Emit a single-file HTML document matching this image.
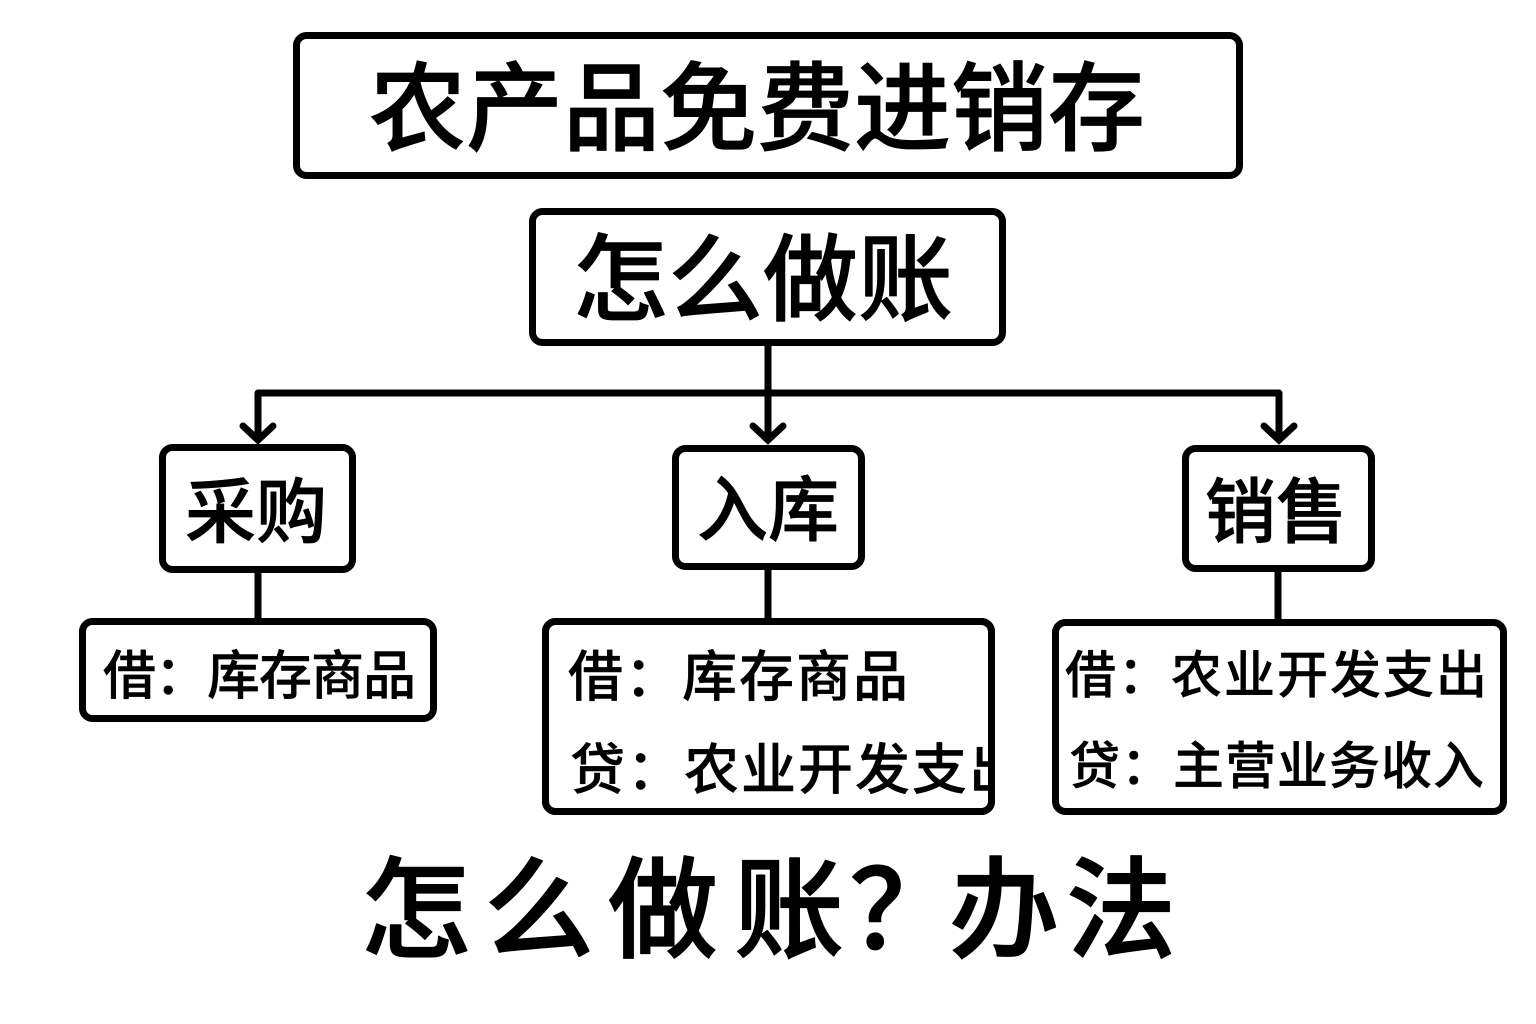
<!DOCTYPE html>
<html>
<head>
<meta charset="utf-8">
<style>
  html,body{margin:0;padding:0;background:#fff;}
  body{width:1536px;height:1024px;overflow:hidden;}
  svg{display:block;}
  text{font-family:"Liberation Sans","Noto Sans CJK SC","WenQuanYi Zen Hei",sans-serif;font-weight:500;fill:#000;stroke:#000;stroke-linejoin:round;}
</style>
</head>
<body>
<svg width="1536" height="1024" viewBox="0 0 1536 1024" xmlns="http://www.w3.org/2000/svg">
  <defs>
    <clipPath id="c2"><rect x="548" y="624" width="441" height="184"/></clipPath>
  </defs>
  <rect x="0" y="0" width="1536" height="1024" fill="#fff"/>

  <!-- Title box -->
  <rect x="296.5" y="35.5" width="943" height="140" rx="10" ry="10" fill="#fff" stroke="#000" stroke-width="7"/>
  <text x="369" y="143" font-size="97" stroke-width="0.8">农产品免费进销存</text>

  <!-- 怎么做账 box -->
  <rect x="532.5" y="211.5" width="470" height="131" rx="10" ry="10" fill="#fff" stroke="#000" stroke-width="7"/>
  <text x="573" y="313" font-size="95" stroke-width="0.8">怎么做账</text>

  <!-- connectors -->
  <g fill="none" stroke="#000" stroke-width="7">
    <path d="M768,346 V440" stroke-linecap="butt"/>
    <path d="M258,440 V393 H1279 V440" stroke-linejoin="round"/>
    <path d="M243,426 L258,440 L273,426" stroke-linejoin="miter" stroke-linecap="round"/>
    <path d="M753,426 L768,440 L783,426" stroke-linejoin="miter" stroke-linecap="round"/>
    <path d="M1264,426 L1279,440 L1294,426" stroke-linejoin="miter" stroke-linecap="round"/>
    <path d="M258,572 V621"/>
    <path d="M768,569 V621"/>
    <path d="M1278,571 V622"/>
  </g>

  <!-- level 2 boxes -->
  <rect x="162.5" y="447.5" width="190" height="122" rx="10" ry="10" fill="#fff" stroke="#000" stroke-width="7"/>
  <text x="185" y="537" font-size="71" stroke-width="0.7">采购</text>

  <rect x="675.5" y="448.5" width="186" height="118" rx="10" ry="10" fill="#fff" stroke="#000" stroke-width="7"/>
  <text x="697" y="535" font-size="71" stroke-width="0.7">入库</text>

  <rect x="1185.5" y="448.5" width="186" height="120" rx="10" ry="10" fill="#fff" stroke="#000" stroke-width="7"/>
  <text x="1205" y="537" font-size="71" stroke-width="0.7">销售</text>

  <!-- level 3 boxes -->
  <rect x="82.5" y="621.5" width="351" height="97" rx="10" ry="10" fill="#fff" stroke="#000" stroke-width="7"/>
  <text x="103" y="694" font-size="53" letter-spacing="-1" stroke-width="0.4">借：库存商品</text>

  <rect x="545.5" y="621.5" width="446" height="190" rx="10" ry="10" fill="#fff" stroke="#000" stroke-width="7"/>
  <g clip-path="url(#c2)">
    <text x="568" y="696" font-size="55" letter-spacing="2" stroke-width="0.4">借：库存商品</text>
    <text x="570" y="789" font-size="55" letter-spacing="2" stroke-width="0.4">贷：农业开发支出</text>
  </g>
  <rect x="545.5" y="621.5" width="446" height="190" rx="10" ry="10" fill="none" stroke="#000" stroke-width="7"/>

  <rect x="1055.5" y="622.5" width="448" height="189" rx="10" ry="10" fill="#fff" stroke="#000" stroke-width="7"/>
  <text x="1065" y="693" font-size="51" letter-spacing="2" stroke-width="0.4">借：农业开发支出</text>
  <text x="1069" y="784" font-size="51" letter-spacing="1" stroke-width="0.4">贷：主营业务收入</text>

  <!-- bottom caption -->
  <g font-size="110" stroke-width="1.3">
    <text x="361" y="949">怎</text>
    <text x="484" y="949">么</text>
    <text x="608" y="949">做</text>
    <text x="734" y="949">账</text>
    <text x="904" y="949" text-anchor="middle">？</text>
    <text x="949" y="949">办</text>
    <text x="1066" y="949">法</text>
  </g>
</svg>
</body>
</html>
